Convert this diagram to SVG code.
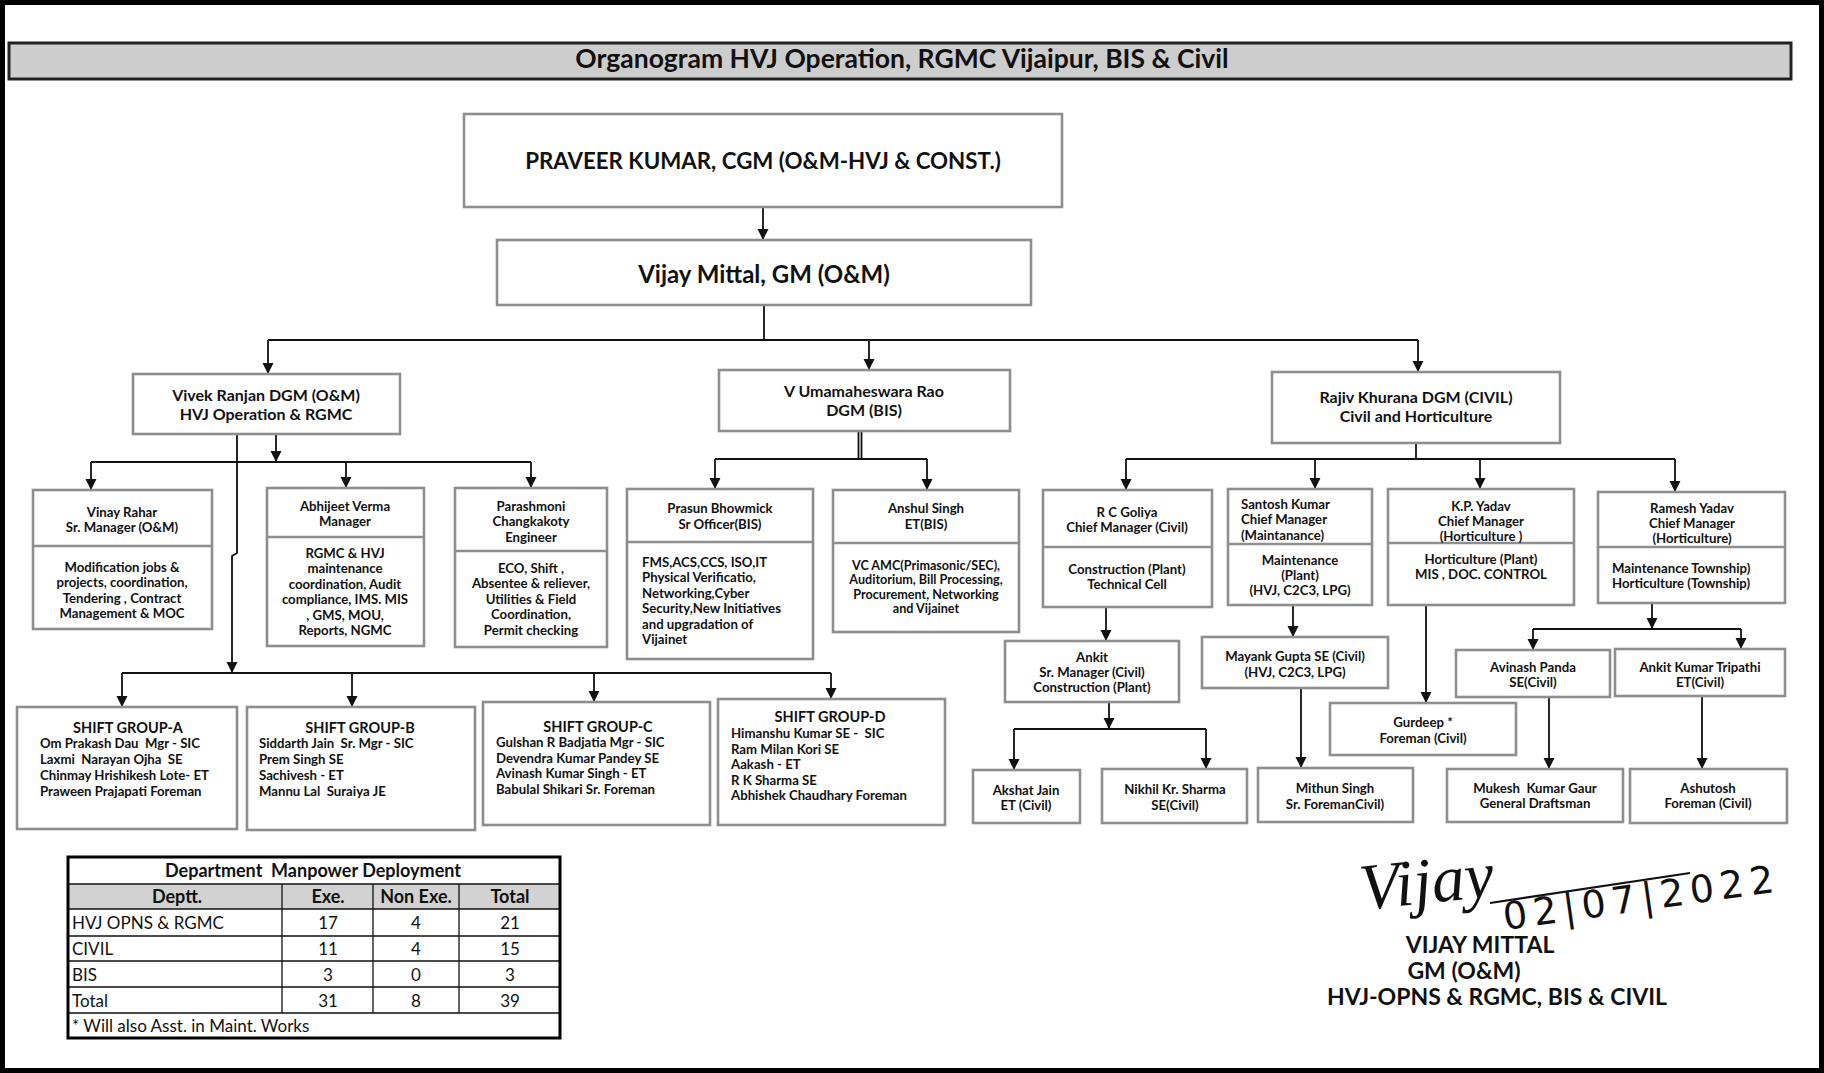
<svg xmlns="http://www.w3.org/2000/svg" width="1824" height="1073" viewBox="0 0 1824 1073">
<style>
.bg{fill:#fff}
.box{fill:#fff;stroke:#8e8e8e;stroke-width:2.6}
.sep{stroke:#8e8e8e;stroke-width:2.4;fill:none}
.t{font-family:Lato,'Liberation Sans',sans-serif;font-weight:bold;fill:#111;white-space:pre}
.n{font-family:Lato,'Liberation Sans',sans-serif;font-weight:normal;fill:#111;white-space:pre}
.c{text-anchor:middle}
.s12{font-size:13.2px}
.s125{font-size:12.6px}
.s13{font-size:14.5px}
.s15{font-size:16px}
.conn{stroke:#111;stroke-width:1.8;fill:none}
.arr{stroke:#111;stroke-width:1.8;fill:none;marker-end:url(#ah)}
.tb{fill:none;stroke:#111;stroke-width:1.3}
</style>
<defs>
<marker id="ah" markerUnits="userSpaceOnUse" markerWidth="12" markerHeight="12" refX="11" refY="6" orient="auto">
<path d="M0,0.5 L11,6 L0,11.5 z" fill="#111"/>
</marker>
</defs>
<rect class="bg" x="0" y="0" width="1824" height="1073"/>
<rect x="2.5" y="2.5" width="1819" height="1068" fill="none" stroke="#000" stroke-width="5"/>

<g id="title">
<rect x="9" y="43" width="1782" height="36" fill="#cdcdcd" stroke="#222" stroke-width="3"/>
<text class="t c" x="902" y="68" font-size="26.5">Organogram HVJ Operation, RGMC Vijaipur, BIS &amp; Civil</text>
</g>

<g id="connectors">
<path class="arr" d="M763,207 V240"/>
<path class="conn" d="M764,305 V340 M268,340 H1418"/>
<path class="arr" d="M268,340 V374"/>
<path class="arr" d="M869,340 V370"/>
<path class="arr" d="M1418,340 V372"/>
<path class="arr" d="M276,434 V462"/>
<path class="conn" d="M91,462 H531"/>
<path class="arr" d="M91,462 V490"/>
<path class="arr" d="M346,462 V488"/>
<path class="arr" d="M531,462 V488"/>
<path class="arr" d="M237,434 V553 L232,556 V673"/>
<path class="conn" d="M122,673 H831"/>
<path class="arr" d="M122,673 V707"/>
<path class="arr" d="M352,673 V707"/>
<path class="arr" d="M594,673 V702"/>
<path class="arr" d="M831,673 V699"/>
<path class="conn" d="M858.5,431 V459 M861.5,431 V459 M715,459 H927"/>
<path class="arr" d="M715,459 V489"/>
<path class="arr" d="M927,459 V490"/>
<path class="conn" d="M1416,443 V459 M1126,459 H1675"/>
<path class="arr" d="M1126,459 V490"/>
<path class="arr" d="M1315,459 V489"/>
<path class="arr" d="M1480,459 V489"/>
<path class="arr" d="M1675,459 V492"/>
<path class="arr" d="M1106,607 V641"/>
<path class="arr" d="M1109,702 V729"/>
<path class="conn" d="M1014,729 H1206"/>
<path class="arr" d="M1014,729 V770"/>
<path class="arr" d="M1206,729 V769"/>
<path class="arr" d="M1293,605 V637"/>
<path class="arr" d="M1301,688 V768"/>
<path class="arr" d="M1426,605 V703"/>
<path class="arr" d="M1652,603 V629"/>
<path class="conn" d="M1533,629 H1741"/>
<path class="arr" d="M1533,629 V650"/>
<path class="arr" d="M1741,629 V649"/>
<path class="arr" d="M1549,697 V769"/>
<path class="arr" d="M1702,696 V769"/>
</g>

<g id="praveer">
<rect class="box" x="464" y="114" width="598" height="93"/>
<text class="t c" x="763" y="168.5" font-size="22.3">PRAVEER KUMAR, CGM (O&amp;M-HVJ &amp; CONST.)</text>
</g>
<g id="vijay">
<rect class="box" x="497" y="240" width="534" height="65"/>
<text class="t c" x="764" y="282.5" font-size="24">Vijay Mittal, GM (O&amp;M)</text>
</g>

<g id="vivek">
<rect class="box" x="133" y="374" width="267" height="60"/>
<text class="t c s15" x="266" y="401">Vivek Ranjan DGM (O&amp;M)</text>
<text class="t c s15" x="266" y="420">HVJ Operation &amp; RGMC</text>
</g>
<g id="vuma">
<rect class="box" x="719" y="370" width="291" height="61"/>
<text class="t c s15" x="864" y="397">V Umamaheswara Rao</text>
<text class="t c s15" x="864" y="416">DGM (BIS)</text>
</g>
<g id="rajiv">
<rect class="box" x="1272" y="372" width="288" height="71"/>
<text class="t c s15" x="1416" y="403">Rajiv Khurana DGM (CIVIL)</text>
<text class="t c s15" x="1416" y="422">Civil and Horticulture</text>
</g>

<g id="vinay">
<rect class="box" x="33" y="490" width="179" height="139"/>
<path class="sep" d="M33,546 H212"/>
<text class="t c s12" x="122" y="516.5">Vinay Rahar</text>
<text class="t c s12" x="122" y="531.5">Sr. Manager (O&amp;M)</text>
<text class="t c s12" x="122" y="571.5">Modification jobs &amp;</text>
<text class="t c s12" x="122" y="587">projects, coordination,</text>
<text class="t c s12" x="122" y="602.5">Tendering , Contract</text>
<text class="t c s12" x="122" y="618">Management &amp; MOC</text>
</g>
<g id="abhijeet">
<rect class="box" x="267" y="488" width="157" height="158"/>
<path class="sep" d="M267,537 H424"/>
<text class="t c s12" x="345" y="510.5">Abhijeet Verma</text>
<text class="t c s12" x="345" y="525.5">Manager</text>
<text class="t c s12" x="345" y="557.5">RGMC &amp; HVJ</text>
<text class="t c s12" x="345" y="573">maintenance</text>
<text class="t c s12" x="345" y="588.5">coordination, Audit</text>
<text class="t c s12" x="345" y="604">compliance, IMS. MIS</text>
<text class="t c s12" x="345" y="619.5">, GMS, MOU,</text>
<text class="t c s12" x="345" y="635">Reports, NGMC</text>
</g>
<g id="parashmoni">
<rect class="box" x="455" y="488" width="152" height="159"/>
<path class="sep" d="M455,551 H607"/>
<text class="t c s12" x="531" y="510.5">Parashmoni</text>
<text class="t c s12" x="531" y="526">Changkakoty</text>
<text class="t c s12" x="531" y="541.5">Engineer</text>
<text class="t c s12" x="531" y="572.5">ECO, Shift ,</text>
<text class="t c s12" x="531" y="588">Absentee &amp; reliever,</text>
<text class="t c s12" x="531" y="603.5">Utilities &amp; Field</text>
<text class="t c s12" x="531" y="619">Coordination,</text>
<text class="t c s12" x="531" y="634.5">Permit checking</text>
</g>
<g id="prasun">
<rect class="box" x="627" y="489" width="186" height="170"/>
<path class="sep" d="M627,542 H813"/>
<text class="t c s12" x="720" y="512.5">Prasun Bhowmick</text>
<text class="t c s12" x="720" y="528.5">Sr Officer(BIS)</text>
<text class="t s12" x="642" y="566.5">FMS,ACS,CCS, ISO,IT</text>
<text class="t s12" x="642" y="582">Physical Verificatio,</text>
<text class="t s12" x="642" y="597.5">Networking,Cyber</text>
<text class="t s12" x="642" y="613">Security,New Initiatives</text>
<text class="t s12" x="642" y="628.5">and upgradation of</text>
<text class="t s12" x="642" y="644">Vijainet</text>
</g>
<g id="anshul">
<rect class="box" x="833" y="490" width="186" height="142"/>
<path class="sep" d="M833,543 H1019"/>
<text class="t c s12" x="926" y="512.5">Anshul Singh</text>
<text class="t c s12" x="926" y="528.5">ET(BIS)</text>
<text class="t c s125" x="926" y="569.5">VC AMC(Primasonic/SEC),</text>
<text class="t c s125" x="926" y="584">Auditorium, Bill Processing,</text>
<text class="t c s125" x="926" y="598.5">Procurement, Networking</text>
<text class="t c s125" x="926" y="613">and Vijainet</text>
</g>

<g id="rcgoliya">
<rect class="box" x="1043" y="490" width="169" height="117"/>
<path class="sep" d="M1043,547 H1212"/>
<text class="t c s12" x="1127" y="516.5">R C Goliya</text>
<text class="t c s12" x="1127" y="531.5">Chief Manager (Civil)</text>
<text class="t c s12" x="1127" y="573.5">Construction (Plant)</text>
<text class="t c s12" x="1127" y="588.5">Technical Cell</text>
</g>
<g id="santosh">
<rect class="box" x="1228" y="489" width="144" height="116"/>
<path class="sep" d="M1228,544 H1372"/>
<text class="t s12" x="1241" y="508.5">Santosh Kumar</text>
<text class="t s12" x="1241" y="524">Chief Manager</text>
<text class="t s12" x="1241" y="539.5">(Maintanance)</text>
<text class="t c s12" x="1300" y="564.5">Maintenance</text>
<text class="t c s12" x="1300" y="579.5">(Plant)</text>
<text class="t c s12" x="1300" y="594.5">(HVJ, C2C3, LPG)</text>
</g>
<g id="kpyadav">
<rect class="box" x="1388" y="489" width="186" height="116"/>
<path class="sep" d="M1388,543 H1574"/>
<text class="t c s12" x="1481" y="510.5">K.P. Yadav</text>
<text class="t c s12" x="1481" y="525.5">Chief Manager</text>
<text class="t c s12" x="1481" y="540.5">(Horticulture )</text>
<text class="t c s12" x="1481" y="563.5">Horticulture (Plant)</text>
<text class="t c s12" x="1481" y="578.5">MIS , DOC. CONTROL</text>
</g>
<g id="ramesh">
<rect class="box" x="1598" y="492" width="187" height="111"/>
<path class="sep" d="M1598,547 H1785"/>
<text class="t c s12" x="1692" y="512.5">Ramesh Yadav</text>
<text class="t c s12" x="1692" y="527.5">Chief Manager</text>
<text class="t c s12" x="1692" y="543">(Horticulture)</text>
<text class="t s12" x="1612" y="572.5">Maintenance Township)</text>
<text class="t s12" x="1612" y="587.5">Horticulture (Township)</text>
</g>

<g id="ankit">
<rect class="box" x="1005" y="641" width="174" height="61"/>
<text class="t c s12" x="1092" y="661.5">Ankit</text>
<text class="t c s12" x="1092" y="676.5">Sr. Manager (Civil)</text>
<text class="t c s12" x="1092" y="691.5">Construction (Plant)</text>
</g>
<g id="akshat">
<rect class="box" x="973" y="770" width="107" height="53"/>
<text class="t c s12" x="1026" y="794.5">Akshat Jain</text>
<text class="t c s12" x="1026" y="809.5">ET (Civil)</text>
</g>
<g id="nikhil">
<rect class="box" x="1102" y="769" width="145" height="54"/>
<text class="t c s12" x="1175" y="793.5">Nikhil Kr. Sharma</text>
<text class="t c s12" x="1175" y="809.5">SE(Civil)</text>
</g>
<g id="mayank">
<rect class="box" x="1202" y="637" width="186" height="51"/>
<text class="t c s12" x="1295" y="660.5">Mayank Gupta SE (Civil)</text>
<text class="t c s12" x="1295" y="676.5">(HVJ, C2C3, LPG)</text>
</g>
<g id="mithun">
<rect class="box" x="1258" y="768" width="155" height="54"/>
<text class="t c s12" x="1335" y="792.5">Mithun Singh</text>
<text class="t c s12" x="1335" y="808.5">Sr. ForemanCivil)</text>
</g>
<g id="gurdeep">
<rect class="box" x="1330" y="703" width="186" height="52"/>
<text class="t c s12" x="1423" y="726.5">Gurdeep *</text>
<text class="t c s12" x="1423" y="742.5">Foreman (Civil)</text>
</g>
<g id="avinash">
<rect class="box" x="1456" y="650" width="154" height="47"/>
<text class="t c s12" x="1533" y="671.5">Avinash Panda</text>
<text class="t c s12" x="1533" y="686.5">SE(Civil)</text>
</g>
<g id="tripathi">
<rect class="box" x="1615" y="649" width="170" height="47"/>
<text class="t c s12" x="1700" y="671.5">Ankit Kumar Tripathi</text>
<text class="t c s12" x="1700" y="686.5">ET(Civil)</text>
</g>
<g id="mukesh">
<rect class="box" x="1447" y="769" width="176" height="53"/>
<text class="t c s12" x="1535" y="792.5">Mukesh  Kumar Gaur</text>
<text class="t c s12" x="1535" y="807.5">General Draftsman</text>
</g>
<g id="ashutosh">
<rect class="box" x="1630" y="769" width="157" height="54"/>
<text class="t c s12" x="1708" y="792.5">Ashutosh</text>
<text class="t c s12" x="1708" y="807.5">Foreman (Civil)</text>
</g>

<g id="shiftA">
<rect class="box" x="17" y="707" width="220" height="122"/>
<text class="t c s13" x="128" y="732.5">SHIFT GROUP-A</text>
<text class="t s12" x="40" y="748">Om Prakash Dau  Mgr - SIC</text>
<text class="t s12" x="40" y="764">Laxmi  Narayan Ojha  SE</text>
<text class="t s12" x="40" y="780">Chinmay Hrishikesh Lote- ET</text>
<text class="t s12" x="40" y="796">Praween Prajapati Foreman</text>
</g>
<g id="shiftB">
<rect class="box" x="247" y="707" width="228" height="123"/>
<text class="t c s13" x="360" y="732.5">SHIFT GROUP-B</text>
<text class="t s12" x="259" y="748">Siddarth Jain  Sr. Mgr - SIC</text>
<text class="t s12" x="259" y="764">Prem Singh SE</text>
<text class="t s12" x="259" y="780">Sachivesh - ET</text>
<text class="t s12" x="259" y="796">Mannu Lal  Suraiya JE</text>
</g>
<g id="shiftC">
<rect class="box" x="483" y="702" width="227" height="123"/>
<text class="t c s13" x="598" y="731.5">SHIFT GROUP-C</text>
<text class="t s12" x="496" y="747">Gulshan R Badjatia Mgr - SIC</text>
<text class="t s12" x="496" y="762.5">Devendra Kumar Pandey SE</text>
<text class="t s12" x="496" y="778">Avinash Kumar Singh - ET</text>
<text class="t s12" x="496" y="793.5">Babulal Shikari Sr. Foreman</text>
</g>
<g id="shiftD">
<rect class="box" x="718" y="699" width="227" height="126"/>
<text class="t c s13" x="830" y="721.5">SHIFT GROUP-D</text>
<text class="t s12" x="731" y="738">Himanshu Kumar SE -  SIC</text>
<text class="t s12" x="731" y="753.5">Ram Milan Kori SE</text>
<text class="t s12" x="731" y="769">Aakash - ET</text>
<text class="t s12" x="731" y="784.5">R K Sharma SE</text>
<text class="t s12" x="731" y="800">Abhishek Chaudhary Foreman</text>
</g>

<g id="table">
<rect x="68" y="884" width="492" height="25" fill="#d2d2d2"/>
<path class="tb" d="M68,884 H560 M68,909 H560 M68,936 H560 M68,961 H560 M68,987 H560 M68,1013 H560 M282,884 V1013 M373,884 V1013 M459,884 V1013"/>
<rect x="68" y="857" width="492" height="181" fill="none" stroke="#000" stroke-width="3"/>
<text class="t c" x="313" y="876.5" font-size="18">Department  Manpower Deployment</text>
<text class="t c" x="177" y="903" font-size="18">Deptt.</text>
<text class="t c" x="328" y="903" font-size="18">Exe.</text>
<text class="t c" x="416" y="903" font-size="18">Non Exe.</text>
<text class="t c" x="510" y="903" font-size="18">Total</text>
<g class="n" font-size="17">
<text x="72" y="929">HVJ OPNS &amp; RGMC</text>
<text class="c" x="328" y="929">17</text><text class="c" x="416" y="929">4</text><text class="c" x="510" y="929">21</text>
<text x="72" y="955">CIVIL</text>
<text class="c" x="328" y="955">11</text><text class="c" x="416" y="955">4</text><text class="c" x="510" y="955">15</text>
<text x="72" y="980.5">BIS</text>
<text class="c" x="328" y="980.5">3</text><text class="c" x="416" y="980.5">0</text><text class="c" x="510" y="980.5">3</text>
<text x="72" y="1006.5">Total</text>
<text class="c" x="328" y="1006.5">31</text><text class="c" x="416" y="1006.5">8</text><text class="c" x="510" y="1006.5">39</text>
<text x="72" y="1031.5">* Will also Asst. in Maint. Works</text>
</g>
</g>

<g id="signature">
<text x="1362" y="910" font-family="'Liberation Serif',serif" font-style="italic" font-size="66" fill="#111" transform="rotate(-6 1362 910)">Vijay</text>
<path d="M1490,903 L1690,873" stroke="#111" stroke-width="2.2" fill="none"/>
<text x="1505" y="930" font-family="'DejaVu Sans',sans-serif" font-size="38" fill="#111" letter-spacing="6" transform="rotate(-8 1505 930)">02|07|2022</text>
<text class="t c" x="1480" y="953" font-size="23">VIJAY MITTAL</text>
<text class="t c" x="1464" y="979" font-size="23">GM (O&amp;M)</text>
<text class="t c" x="1497" y="1005" font-size="23">HVJ-OPNS &amp; RGMC, BIS &amp; CIVIL</text>
</g>
</svg>
